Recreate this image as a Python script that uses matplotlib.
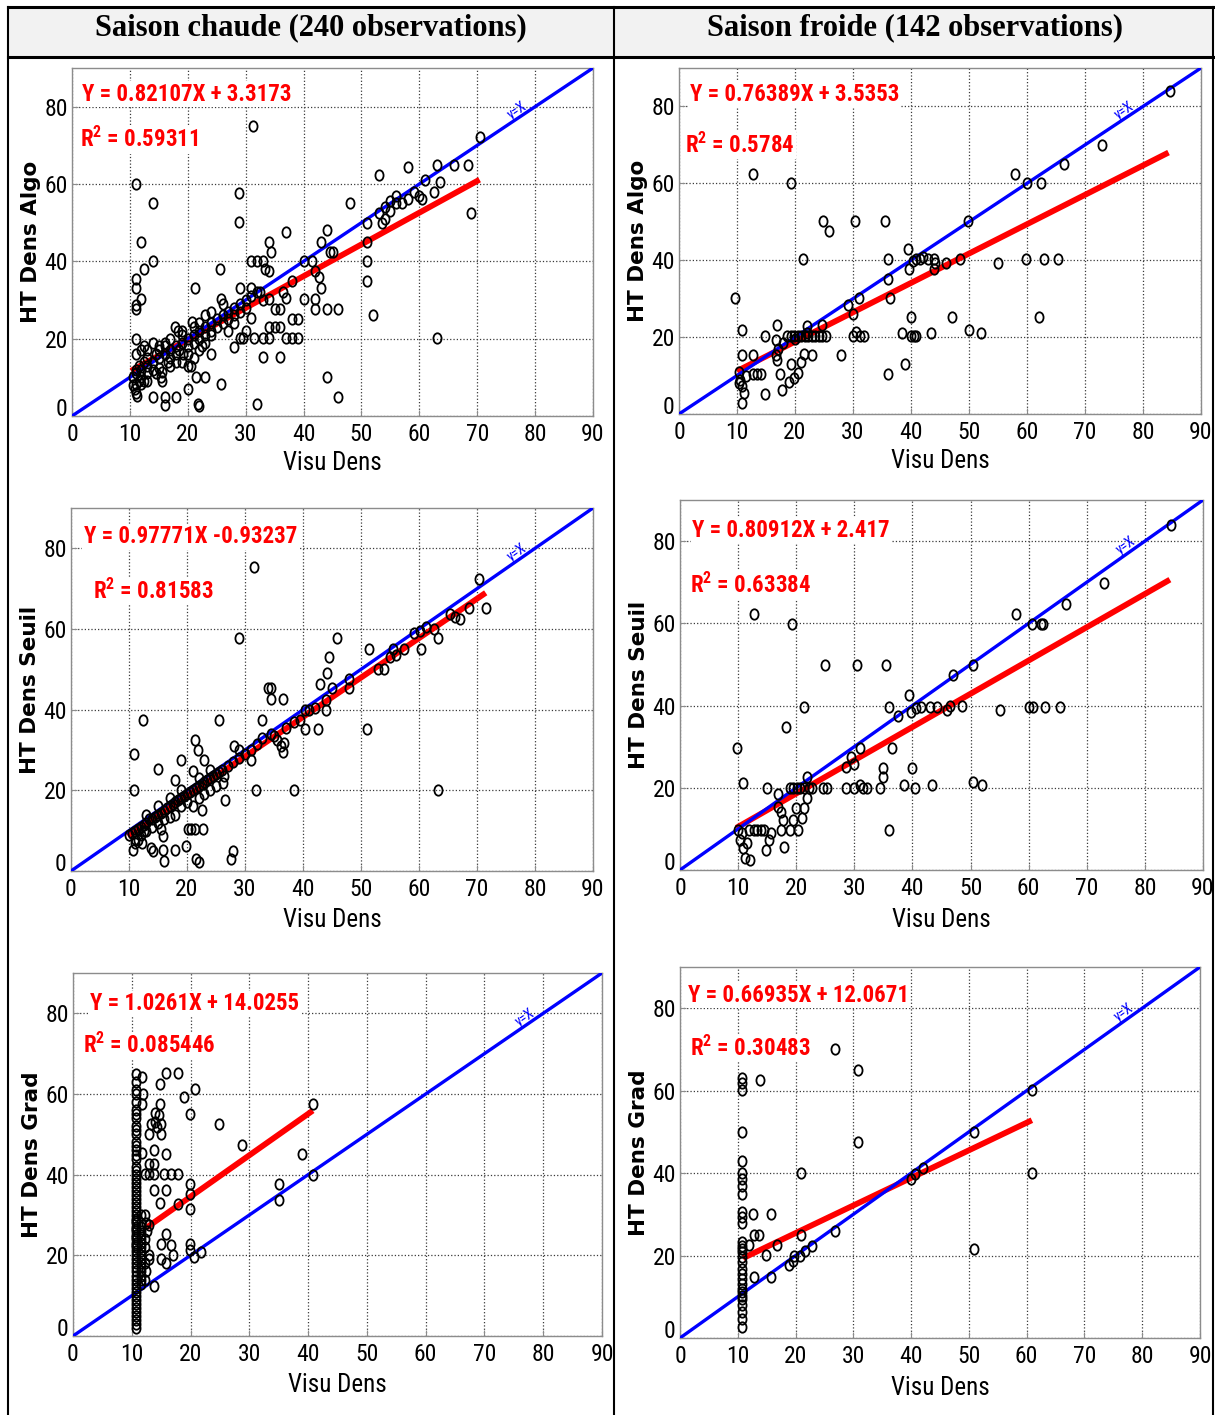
import numpy as np
import matplotlib
matplotlib.use("Agg")
import matplotlib.pyplot as plt
from matplotlib import font_manager as fm
from matplotlib.path import Path
from matplotlib.lines import Line2D
from matplotlib.patches import Rectangle

# ---- data ---------------------------------------------------------------
headers = ["Saison chaude (240 observations)", "Saison froide (142 observations)"]
ylabels = ["HT Dens Algo", "HT Dens Seuil", "HT Dens Grad"]

# (Visu Dens, HT Dens) pairs, one array per panel
algo_chaude = np.array([
    (31.3, 75.1), (11, 60), (14, 55), (12, 45), (12.4, 38), (14, 40.2), (11, 35.5), (11, 33), (11, 28.6),
    (11, 27.7), (12, 30.3), (11, 20), (28.9, 57.6), (28.9, 50.1), (37, 47.5), (34, 45.1), (34.4, 42.5),
    (31, 40.2), (32, 40.2), (33, 40.2), (33.3, 38), (34, 37.5), (25.5, 38), (21.3, 33), (25.8, 30.3),
    (29, 33), (31, 33), (32.5, 32), (34, 30.3), (35, 27.7), (36, 27.7), (36.5, 32), (37, 30.5), (38, 35),
    (40, 40.2), (41.5, 40.2), (42, 37.5), (42.7, 36), (43, 33), (43, 45), (44, 48), (44.5, 42.5), (45, 42.5),
    (40, 30.3), (42, 30.3), (42, 27.7), (44, 27.7), (46, 27.7), (38, 25), (39, 25), (34, 23), (35, 23),
    (36, 23), (31.5, 20.2), (33, 20.2), (34, 20.2), (37, 20.2), (38, 20.2), (39, 20.2), (29, 20.2),
    (29.5, 20.2), (31, 25.3), (33, 15.2), (36, 15.2), (32, 3.2), (44, 10), (46, 5), (52, 26), (51, 40),
    (51, 35), (51, 45), (51, 50), (53, 62.4), (48, 55), (58, 64.3), (63, 20.2), (70.4, 72.2), (68.4, 65),
    (63, 65), (66, 64.8), (69, 52.5), (61, 61), (62.5, 58), (63.5, 60.5), (60, 57), (60.5, 56), (53, 52.5),
    (54, 54), (55, 55.5), (56, 57), (57, 55), (53.5, 50), (55, 53), (56, 55), (58, 56), (59, 58), (54, 51),
    (17.8, 23), (20.8, 24.3), (20, 13), (21.4, 10), (23, 10), (20, 7), (21.7, 3), (22, 2.5), (14, 5),
    (16, 5), (16, 2.8), (18, 5), (25.8, 8.4), (24, 16), (28, 17.8), (15.3, 10), (15.6, 9), (11, 8.4),
    (12, 8.4), (11.3, 5.3), (15.5, 11.5), (15, 12.3), (18.3, 22), (18.5, 17), (19, 14), (19.2, 16),
    (20.5, 13), (21, 15), (22, 17), (23, 19), (24, 21), (22.5, 18), (10.5, 10), (11, 12), (11, 11),
    (11.5, 13), (12, 12), (12.5, 14), (13, 13), (13, 15), (14, 14), (14.5, 16), (15, 15), (15, 17),
    (16, 16), (16, 18), (17, 17), (17, 15), (18, 18), (18, 16), (19, 19), (19, 21), (20, 20), (20, 18),
    (21, 21), (21, 19), (22, 22), (22, 20), (23, 23), (23, 21), (24, 24), (24, 22), (25, 25), (25, 23),
    (26, 26), (26, 24), (27, 27), (27, 25), (28, 28), (28, 26), (29, 29), (29, 27), (30, 30), (30, 28),
    (31, 31), (32, 32), (33, 30), (10.5, 8), (10.8, 7), (11, 6), (11.5, 9), (12, 10), (12.5, 9), (13, 11),
    (13, 9), (14, 12), (14.5, 11), (16.5, 14), (17, 13), (18, 14), (20, 16), (11, 16), (12, 17),
    (12.5, 18), (13, 17), (14, 19), (15, 18), (16, 19), (17, 20), (19, 22), (21, 23), (22, 24), (23, 26),
    (24, 27), (26, 29), (30, 22), (28, 24), (27, 22),
])

algo_froide = np.array([
    (12.8, 62.5), (19.3, 60.2), (9.7, 30.2), (10.8, 21.8), (10.9, 15.3), (12.8, 15.3), (12.7, 10.3),
    (13.5, 10.3), (14.2, 10.3), (14.8, 5.2), (10.3, 11), (10.5, 8.9), (10.8, 7.2), (11.2, 5.4), (10.9, 2.8),
    (10.3, 8), (11.5, 10), (14.8, 20.3), (16.9, 23.1), (16.8, 19.2), (16.8, 15.3), (16.9, 14.1),
    (17.4, 10.3), (17.8, 6.3), (19, 8.4), (19.3, 12.9), (19.9, 9.3), (20.5, 10.6), (21, 13.4),
    (21.6, 15.5), (22.9, 15.3), (18.7, 20.3), (19.3, 20.3), (19.9, 20.3), (20.5, 20.3), (21.1, 20.3),
    (21.7, 20.3), (22.3, 20.3), (22.9, 20.3), (23.5, 20.3), (24.1, 20.3), (24.7, 20.3), (25.3, 20.3),
    (22, 22.8), (24.7, 23.1), (21.3, 40.3), (24.9, 50.1), (25.9, 47.7), (30.4, 50.1), (35.5, 50.1),
    (28, 15.3), (29.2, 28.3), (30, 26.1), (31, 30.2), (30, 20.3), (30.6, 21.4), (31.2, 20.3), (31.9, 20.3),
    (36, 10.3), (36, 40.3), (36, 35.2), (36.4, 30.2), (39, 12.9), (38.5, 21.1), (40, 25.3), (40, 20.3),
    (40.5, 20.3), (40.9, 20.3), (43.4, 21.1), (50, 21.8), (52, 21.1), (47, 25.3), (62, 25.3), (39.4, 42.9),
    (39.7, 37.6), (40.3, 39.7), (40.9, 40.3), (41.5, 40.3), (42.1, 40.8), (43, 40.3), (43.9, 40.3),
    (44.2, 39.4), (43.9, 37.6), (46, 39.2), (48.4, 40.3), (55, 39.2), (59.9, 40.3), (62.9, 40.3),
    (65.4, 40.3), (58, 62.5), (60, 60.2), (62.4, 60.2), (66.4, 65.1), (72.9, 70.1), (84.6, 83.9),
    (49.9, 50.1), (17, 17), (18, 18.5), (20, 19.5), (22, 21),
])

seuil_chaude = np.array([
    (31.5, 75.3), (29, 57.8), (45.9, 57.8), (70.4, 72.4), (71.5, 65.3), (68.6, 65.3), (66.2, 63),
    (67.1, 62.6), (65.3, 63.8), (63.3, 57.8), (60.4, 55.1), (59.2, 59), (60.2, 59.5), (61.2, 60.6),
    (62.5, 60), (51.3, 55.1), (44.5, 53.1), (44.1, 49), (43, 46.3), (48, 47.7), (48, 45.3), (45, 45.3),
    (53, 50), (54, 50), (55, 53), (56, 53.5), (55.5, 55), (57.4, 55), (34, 45.3), (34.4, 45.3),
    (34.5, 42.6), (36.5, 42.6), (40.4, 40), (41, 40), (42, 40.3), (44, 40), (44, 42.4), (40.4, 35.1),
    (42.5, 35.1), (51, 35.1), (25.6, 37.4), (33, 37.4), (12.4, 37.4), (10.8, 29), (10.8, 20.2), (15, 25.3),
    (18.9, 27.6), (21.3, 32.5), (21.9, 30), (23, 27.6), (28.1, 31), (28.9, 30), (31, 27.6), (31.9, 20.2),
    (38.5, 20.2), (63.3, 20.2), (36.2, 30.9), (36.5, 29.6), (35.6, 32.5), (36.8, 31.7), (33, 33),
    (32, 31.5), (34.5, 34), (35, 33.5), (37, 35.5), (38.5, 37), (39.5, 37.5), (26.5, 17.7), (22.5, 15.2),
    (20.1, 10.3), (20.7, 10.3), (21.3, 10.3), (22.8, 10.3), (19.8, 6.3), (18, 5.3), (15.9, 5.3),
    (16.1, 2.5), (13.8, 5.8), (14.1, 4.9), (21.6, 2.9), (22, 2.3), (27.5, 3), (28, 4.9), (26.4, 23.5),
    (26.2, 21.8), (18, 22.6), (21, 24.7), (10.7, 5.3), (11, 7), (11.6, 7.8), (12.2, 7), (12.5, 9.9),
    (15, 11.9), (15.6, 10.3), (15.9, 8.6), (10, 9), (10.5, 9.5), (11, 10), (11.5, 10.5), (12, 11),
    (12.5, 11.5), (13, 12), (13.5, 12.8), (14, 13), (14.5, 13.5), (15, 14), (15.5, 14.5), (16, 15),
    (16.5, 15.5), (17, 16), (17.5, 16.5), (18, 17), (18.5, 17.5), (19, 18), (19.5, 18.5), (20, 19),
    (20.5, 19.5), (21, 20), (21.5, 20.5), (22, 21), (22.5, 21.5), (23, 22), (23.5, 22.5), (24, 23),
    (24.5, 23.5), (25, 24), (25.5, 24.5), (26, 25), (27, 26), (28, 27), (29, 28), (30, 29), (31, 30),
    (11, 8), (12, 9), (13, 10), (14, 11), (16, 13), (17, 13.5), (18, 14), (19, 16), (20, 17), (21, 16),
    (22, 18), (23, 19), (24, 20), (25, 21), (17, 18), (19, 20), (22, 23), (24, 25), (13, 14), (15, 16),
])

seuil_froide = np.array([
    (12.8, 62.2), (19.2, 59.8), (9.8, 29.7), (10.8, 21.2), (14.9, 19.9), (18.3, 34.7), (21.3, 39.7),
    (24.9, 49.8), (30.5, 49.8), (35.4, 49.8), (16.8, 18.6), (16.8, 15.4), (17.4, 14.2), (17.7, 12.2),
    (17.3, 9.7), (17.9, 5.7), (18.9, 9.7), (19.4, 12.2), (20.3, 9.7), (20, 15), (21, 12.6), (21.3, 15),
    (21.9, 17.4), (21.9, 22.7), (22.2, 19.9), (18.9, 19.9), (19.5, 19.9), (20.1, 19.9), (20.7, 19.9),
    (21.3, 19.9), (22.8, 19.9), (24.6, 19.9), (25.3, 19.9), (14.8, 4.9), (15.7, 8.9), (15.4, 7.3),
    (11.8, 9.7), (12.7, 9.7), (13.3, 9.7), (14, 9.7), (14.5, 9.7), (10.3, 7.3), (10.9, 5.3), (11.2, 2.8),
    (12.1, 2.4), (10.6, 8.9), (11.5, 6.5), (10, 9.7), (28.5, 19.9), (28.5, 25.1), (29.4, 27.6),
    (29.9, 25.9), (30.9, 29.6), (30, 19.9), (30.9, 20.7), (31.5, 19.9), (32.1, 19.9), (34.5, 19.9),
    (34.9, 24.7), (34.9, 22.7), (36, 9.7), (36.4, 29.7), (37.5, 37.4), (36, 39.7), (38.5, 20.7),
    (40, 24.7), (40.4, 19.9), (43.4, 20.7), (50.4, 21.5), (52, 20.7), (39.4, 42.5), (39.7, 38.5),
    (40.6, 39.3), (41.4, 39.7), (43, 39.7), (44.3, 39.7), (45.9, 38.9), (46.5, 39.9), (48.6, 39.9),
    (55, 38.9), (60, 39.7), (60.8, 39.7), (62.8, 39.7), (65.4, 39.7), (47, 47.4), (50.5, 49.8),
    (57.9, 62.2), (60.5, 59.8), (62.1, 59.8), (62.4, 59.8), (66.4, 64.7), (72.9, 69.9), (84.5, 83.9),
])

grad_chaude = np.array(
    [(10.8, v) for v in (65, 63, 61, 60, 58, 56, 55, 54, 52, 51, 50, 48, 47, 46, 45, 44, 42, 41, 40, 39,
                         38, 37, 36, 35, 34, 33, 32, 31, 30, 29, 28.5, 28, 27, 26.5, 26, 25, 24.5, 24,
                         23, 22.5, 22, 21, 20, 19, 18, 17, 16, 15, 14, 13, 12, 11, 10, 9, 8, 7, 6, 5,
                         4, 3, 2)]
    + [(11.6, v) for v in (30, 28, 27, 26, 25, 24, 23, 22, 21, 20, 19, 18, 17, 16, 15, 14, 13)]
    + [(11.8, 64.2), (11.9, 60), (11.8, 57.6), (14.8, 62.5), (15.8, 65.2), (17.9, 65.2), (20.8, 61.3),
       (18.8, 59.2), (19.9, 55.1), (14.8, 57.6), (13.9, 55.3), (14.6, 54.7), (13.9, 53), (13.2, 52.6),
       (12.9, 50.1), (14.9, 52.6), (14.9, 50.1), (14.3, 51.8), (24.8, 52.6), (28.8, 47.4), (38.9, 45.2),
       (40.8, 57.4), (40.8, 39.8), (35, 37.6), (35, 33.8), (11.8, 45.4), (13.8, 46), (15.8, 45.2),
       (13, 42.7), (13.8, 42.7), (12.9, 40.2), (12.3, 40.2), (13.8, 40.2), (15.5, 40.2), (16.7, 40.2),
       (17.9, 40.2), (13.8, 36.1), (15.8, 36.3), (14.8, 33), (19.9, 37.8), (19.9, 35.3), (19.9, 31.6),
       (17.9, 32.7), (13, 27.5), (15.8, 25.2), (15, 22.9), (16.7, 22.5), (17, 20), (15, 19), (15.8, 18),
       (19.9, 22.9), (19.9, 21.3), (20.6, 19.6), (21.8, 20.9), (13.8, 12.4), (12.3, 22), (12.9, 20),
       (12.3, 18), (12.9, 19), (12.3, 24), (12.6, 26), (12.4, 28), (12.2, 30), (12.5, 16), (12.2, 14)]
)

grad_froide = np.array(
    [(10.8, v) for v in (63.1, 61.9, 60.1, 50, 43, 40.1, 38.5, 36.9, 34.9, 30.5, 29.3, 28, 23.2, 22.4,
                         21.6, 20.8, 19.6, 18.4, 16.8, 15.6, 14.3, 13.1, 11.9, 11.1, 10.3, 9.5, 7.9,
                         6.3, 4.7, 2.7)]
    + [(13.8, 62.5), (26.9, 70.1), (30.8, 65.1), (30.8, 47.5), (20.9, 40), (12.7, 30.1), (15.8, 30.1),
       (12.8, 25), (13.7, 25), (16.8, 22.6), (11.9, 22.6), (14.9, 20.1), (12.8, 14.7), (15.8, 14.7),
       (20.9, 25), (18.9, 17.6), (19.5, 18.8), (19.8, 20), (20.7, 20), (21.6, 21), (22.8, 22.4),
       (26.9, 26), (40, 38.5), (40.6, 39.7), (42, 41.3), (61, 60.1), (50.9, 50), (61, 40), (50.9, 21.6)]
)

panels = [[algo_chaude, algo_froide], [seuil_chaude, seuil_froide], [grad_chaude, grad_froide]]

fit_slope = [[0.82107, 0.76389], [0.97771, 0.80912], [1.0261, 0.66935]]
fit_intercept = [[3.3173, 3.5353], [-0.93237, 2.417], [14.0255, 12.0671]]
fit_start = [[10.2, 10.0], [9.8, 9.7], [12.6, 10.9]]
fit_end = [[70.4, 84.4], [71.5, 84.3], [40.8, 60.9]]
eq_labels = [["Y = 0.82107X + 3.3173", "Y = 0.76389X + 3.5353"],
             ["Y = 0.97771X -0.93237", "Y = 0.80912X + 2.417"],
             ["Y = 1.0261X + 14.0255", "Y = 0.66935X + 12.0671"]]
r2_labels = [["0.59311", "0.5784"], ["0.81583", "0.63384"], ["0.085446", "0.30483"]]

x_ticks = list(range(0, 91, 10))
y_ticks = list(range(0, 81, 20))

# ---- fonts ----------------------------------------------------------------
names = {f.name for f in fm.fontManager.ttflist}
narrow = next((n for n in ["Liberation Sans Narrow", "Roboto Condensed"] if n in names), None)
if narrow is None:
    narrow = "DejaVu Sans"
    plt.rcParams["font.stretch"] = "condensed"
plt.rcParams["font.family"] = [narrow, "DejaVu Sans"]
plt.rcParams["mathtext.fontset"] = "custom"
plt.rcParams["mathtext.rm"] = narrow
plt.rcParams["mathtext.bf"] = narrow + ":bold"

W, H = 1215, 1415
fig = plt.figure(figsize=(W / 100, H / 100), dpi=100)

# table frame
fig.patches.append(Rectangle((8 / W, 1 - 57 / H), 1205 / W, 49 / H, transform=fig.transFigure,
                             facecolor="#f2f2f2", edgecolor="none", zorder=0))
for (xa, ya, xb, yb, lw) in [(8, 7, 1213, 7, 2.2), (8, 57, 1213, 57, 2.2), (8, 7, 8, 1415, 1.5),
                             (1213, 7, 1213, 1415, 1.5), (614, 7, 614, 1415, 1.5)]:
    fig.add_artist(Line2D([xa / W, xb / W], [1 - ya / H, 1 - yb / H], transform=fig.transFigure,
                          color="black", lw=lw))
for cx, title in zip([311, 915], headers):
    fig.text(cx / W, 1 - 28 / H, title, ha="center", va="center", fontsize=22,
             family="Liberation Serif", weight="bold")

# axes rectangles in pixels: x_left, x_right, y_top, y_bottom
rects = [[(72, 593, 68, 416), (679, 1201, 68, 414)],
         [(71, 593, 508, 871), (680, 1203, 500, 870)],
         [(73, 602, 973, 1336), (680, 1200, 967, 1338)]]
eq_pos = [[(1.7, 83.2, 1.4, 71.5), (1.9, 83, 1.0, 70)],
          [(2.2, 82.9, 3.8, 69.3), (2.1, 82.7, 1.7, 69.3)],
          [(2.9, 82.4, 1.7, 72), (1.4, 83.2, 1.7, 70.3)]]

circ = Path.unit_circle()
oval = Path(circ.vertices * [0.78, 1.0], circ.codes)

for r in range(3):
    for c in range(2):
        xl, xr, yt, yb = rects[r][c]
        ax = fig.add_axes([xl / W, 1 - yb / H, (xr - xl) / W, (yb - yt) / H])
        pts = panels[r][c]
        ax.set_xlim(0, 90)
        ax.set_ylim(0, 90)
        ax.set_xticks(x_ticks)
        ax.set_yticks(y_ticks)
        ax.grid(True, linestyle=":", color="#3a3a3a", linewidth=0.9)
        ax.set_axisbelow(True)
        for s in ax.spines.values():
            s.set_color("#8c8c8c")
            s.set_linewidth(1.0)
        ax.tick_params(direction="in", length=4, color="#8c8c8c", labelsize=17)
        ax.tick_params(axis="x", pad=5)
        ax.tick_params(axis="y", pad=3)
        # lift the y "0" a little so it clears the x "0"
        ax.get_yticklabels()[0].set_va("baseline")

        ax.plot([0, 90], [0, 90], color="#0000ff", lw=2.4, zorder=4)
        xs = np.array([fit_start[r][c], fit_end[r][c]])
        ax.plot(xs, fit_slope[r][c] * xs + fit_intercept[r][c], color="#ff0000", lw=4.2,
                solid_capstyle="butt", zorder=3)
        ax.plot(pts[:, 0], pts[:, 1], ls="none", marker=oval, ms=7.5, mfc="none", mec="black",
                mew=1.3, zorder=5)

        ex, ey, rx, ry = eq_pos[r][c]
        ax.text(ex, ey, eq_labels[r][c], color="#ff0000", fontsize=16.5, weight="bold",
                va="center", ha="left", zorder=6,
                bbox=dict(facecolor="white", edgecolor="none", pad=1))
        ax.text(rx, ry, "R$^{\\mathbf{2}}$ = " + r2_labels[r][c], color="#ff0000", fontsize=16.5,
                weight="bold", va="center", ha="left", zorder=6,
                bbox=dict(facecolor="white", edgecolor="none", pad=1))
        ax.text(77.5, 77.5, "y=X", color="#0000ff", fontsize=10, rotation=45,
                transform_rotates_text=True, rotation_mode="anchor", ha="center", va="bottom",
                zorder=6)

        ax.set_xlabel("Visu Dens", fontsize=18)
        ax.xaxis.set_label_coords(0.5, -0.135)
        ax.xaxis.label.set_va("center")
        ax.set_ylabel(ylabels[r], fontsize=15.5, family="DejaVu Sans", weight="bold")
        ax.yaxis.set_label_coords(-0.078, 0.5)
        ax.yaxis.label.set_va("center")

fig.savefig("out.png", dpi=100)
